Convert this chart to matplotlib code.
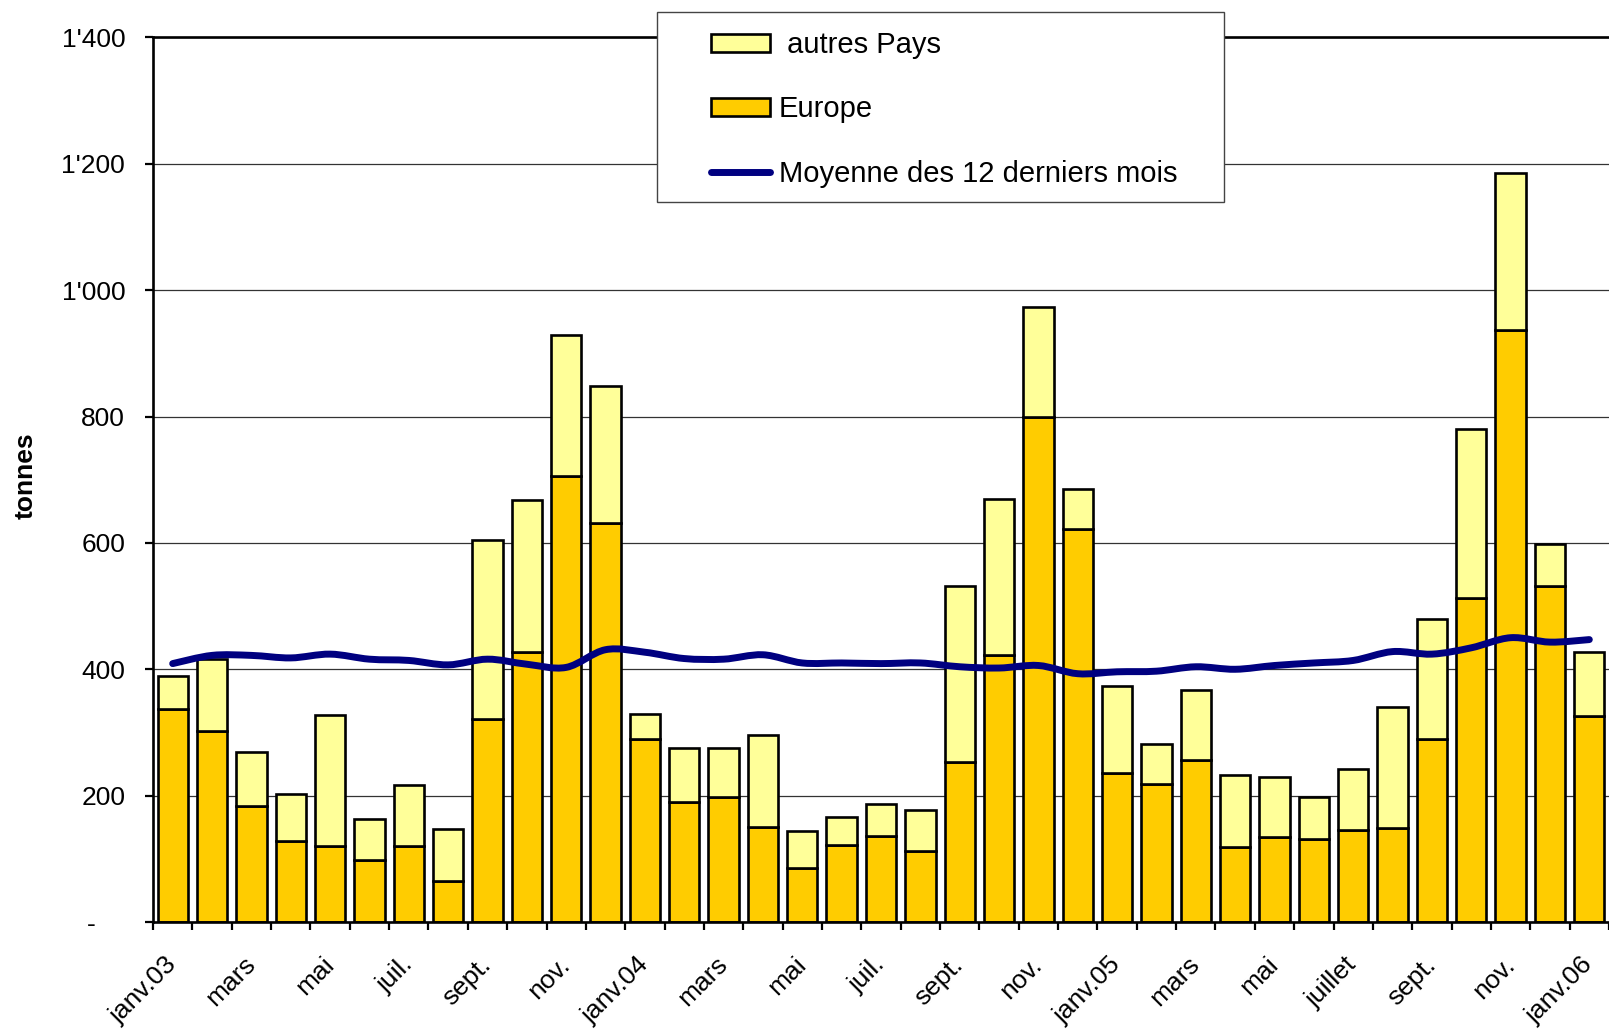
import numpy as np
import matplotlib
matplotlib.use('Agg')
import matplotlib.pyplot as plt
from matplotlib.patches import Rectangle, PathPatch
from matplotlib.path import Path
from matplotlib.lines import Line2D

plt.rcParams['font.family'] = ['Liberation Sans', 'DejaVu Sans']

# monthly exports, tonnes (janv.03 .. janv.06)
europe = [337, 303, 184, 128, 121, 98, 121, 65, 322, 428, 706, 631,
          290, 190, 198, 151, 85, 122, 136, 113, 253, 423, 800, 622,
          236, 218, 256, 119, 135, 132, 146, 148, 289, 513, 937, 532, 326]
autres = [53, 113, 85, 75, 207, 65, 96, 82, 283, 240, 223, 217,
          39, 86, 78, 145, 59, 44, 50, 64, 279, 247, 173, 64,
          138, 64, 111, 113, 95, 66, 96, 193, 190, 267, 248, 66, 102]
moyenne = [409, 422, 422, 418, 424, 416, 414, 407, 416, 408, 403, 431,
           427, 417, 416, 423, 410, 410, 409, 410, 404, 402, 406, 393,
           396, 397, 404, 400, 406, 410, 414, 428, 424, 434, 450, 443, 447]
tick_labels = ['janv.03', 'mars', 'mai', 'juil.', 'sept.', 'nov.',
               'janv.04', 'mars', 'mai', 'juil.', 'sept.', 'nov.',
               'janv.05', 'mars', 'mai', 'juillet', 'sept.', 'nov.', 'janv.06']
y_ticks = [0, 200, 400, 600, 800, 1000, 1200, 1400]
y_tick_labels = ['-    ', '200', '400', '600', '800', "1'000", "1'200", "1'400"]


def smooth_path(xs, ys):
    # excel-like smoothed line: cardinal spline drawn as bezier segments
    p = np.column_stack([xs, ys]).astype(float)
    verts = [p[0]]
    codes = [Path.MOVETO]
    n = len(p)
    for i in range(n - 1):
        p0 = p[max(i - 1, 0)]
        p1, p2 = p[i], p[i + 1]
        p3 = p[min(i + 2, n - 1)]
        verts += [p1 + (p2 - p0) / 6, p2 - (p3 - p1) / 6, p2]
        codes += [Path.CURVE4] * 3
    return Path(verts, codes)


W, H = 1609, 1031
fig = plt.figure(figsize=(W / 100, H / 100), dpi=100)
ax = fig.add_axes([153 / W, 1 - 922 / H, 1 - 153 / W, (922 - 37.5) / H])

x = np.arange(len(europe))
b_eur = ax.bar(x, europe, width=0.77, color='#FFCC00', edgecolor='black', linewidth=1.9, zorder=2)
b_aut = ax.bar(x, autres, bottom=europe, width=0.77, color='#FFFF99', edgecolor='black',
               linewidth=1.9, zorder=2)
ax.add_patch(PathPatch(smooth_path(x, moyenne), fill=False, edgecolor='#000080',
                       linewidth=5, capstyle='round', joinstyle='round', zorder=3))
ln = Line2D([], [], color='#000080', linewidth=5, solid_capstyle='round')

ax.set_xlim(-0.5, -0.5 + (W - 153) / 39.86)
ax.set_ylim(0, 1400)
ax.set_yticks(y_ticks)
ax.set_yticklabels(y_tick_labels, fontsize=19)
ax.yaxis.grid(True, color='#333333', linewidth=0.9)
ax.set_axisbelow(True)

ax.set_xticks(x[::2])
ax.set_xticklabels(tick_labels, rotation=45, ha='right', va='center',
                   rotation_mode='anchor', fontsize=19)
ax.set_xticks(np.arange(-0.5, len(europe), 1), minor=True)
ax.tick_params(axis='x', which='major', length=0, pad=28)
ax.tick_params(axis='x', which='minor', length=6, width=1.6, direction='out')
ax.tick_params(axis='y', length=6, width=1.6, direction='out', pad=14)

for s in ['left', 'bottom', 'top']:
    ax.spines[s].set_linewidth(1.9)
ax.spines['right'].set_visible(False)

fig.text(26 / W, 1 - 476 / H, 'tonnes', rotation=90, fontsize=19, fontweight='bold',
         ha='center', va='center')

# legend box
fig.add_artist(Rectangle((657 / W, 1 - 202 / H), (1224 - 657) / W, 190 / H,
                         transform=fig.transFigure, facecolor='white',
                         edgecolor='#444444', linewidth=1, zorder=3))
fig.legend([b_aut, b_eur, ln], [' autres Pays', 'Europe', 'Moyenne des 12 derniers mois'],
           loc='upper left', bbox_to_anchor=(711 / W, 1 - 31 / H),
           bbox_transform=fig.transFigure, frameon=False, fontsize=21,
           borderpad=0, borderaxespad=0, labelspacing=1.25, handlelength=2.02,
           handleheight=0.58, handletextpad=0.3)

fig.savefig('out.png', dpi=100)
